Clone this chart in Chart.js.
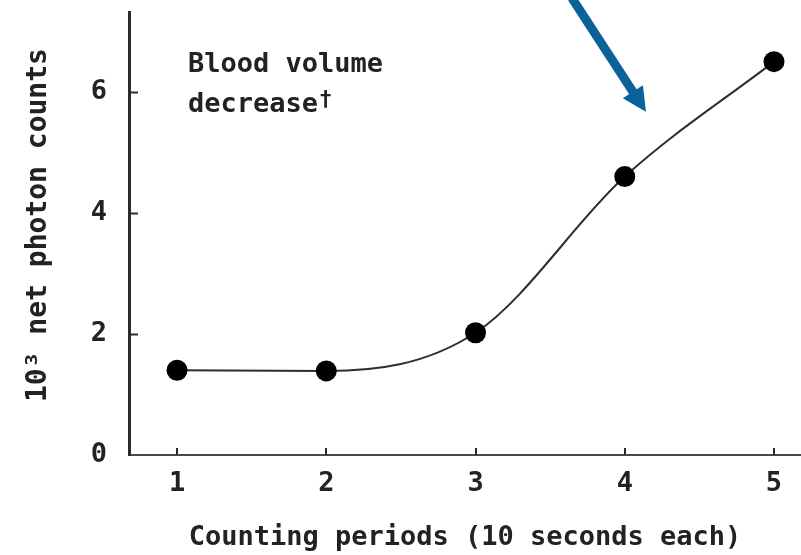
<!DOCTYPE html>
<html>
<head>
<meta charset="utf-8">
<script src="https://cdn.jsdelivr.net/npm/chart.js@4.4.1/dist/chart.umd.min.js"></script>
<style>
  html, body { margin: 0; padding: 0; background: #ffffff; }
  #wrap { width: 801px; height: 555px; position: relative; }
</style>
</head>
<body>
<div id="wrap"><canvas id="c" width="801" height="555"></canvas></div>
<script>
// Counting periods (10 s each) and net photon counts (thousands)
const periods = [1, 2, 3, 4, 5];
const counts = [1.40, 1.39, 2.02, 4.60, 6.50];

// Tick positions on each axis
const xTicks = [1, 2, 3, 4, 5];
const yTicks = [0, 2, 4, 6];

// Annotation text
const noteLines = ['Blood volume', 'decrease'];
const noteMark = '\u2020';

// Arrow pointing at the rising part of the curve (data units)
const arrowFrom = { x: 3.646, y: 7.55 };
const arrowTo = { x: 4.142, y: 5.67 };

const FONT = '"DejaVu Sans Mono", "Liberation Mono", monospace';
const INK = '#222222';

// Scales keep exactly the box they were given (no extra label margins)
function fixBox(size, prop) {
  return s => {
    s[prop] = size;
    s.paddingTop = 0; s.paddingBottom = 0;
    s.paddingLeft = 0; s.paddingRight = 0;
  };
}

// Short tick marks drawn inward from both axes
const inwardTicks = {
  id: 'inwardTicks',
  afterDraw(chart) {
    const { ctx, scales: { x, y }, chartArea } = chart;
    ctx.save();
    ctx.strokeStyle = '#2a2a2a';
    ctx.lineWidth = 2;
    yTicks.forEach(v => {
      if (v === 0) return;
      const py = Math.round(y.getPixelForValue(v)) + 0.5;
      ctx.beginPath();
      ctx.moveTo(chartArea.left, py);
      ctx.lineTo(chartArea.left + 9, py);
      ctx.stroke();
    });
    xTicks.forEach(v => {
      const px = Math.round(x.getPixelForValue(v));
      ctx.beginPath();
      ctx.moveTo(px, chartArea.bottom);
      ctx.lineTo(px, chartArea.bottom - 7);
      ctx.stroke();
    });
    ctx.restore();
  }
};

// Text note in the upper left of the plot
const note = {
  id: 'note',
  afterDraw(chart) {
    const { ctx, chartArea } = chart;
    const left = chartArea.left + 59;
    const top = chartArea.top;
    ctx.save();
    ctx.fillStyle = INK;
    ctx.textAlign = 'left';
    ctx.textBaseline = 'alphabetic';
    ctx.font = 'bold 27px ' + FONT;
    ctx.fillText(noteLines[0], left, top + 60);
    ctx.fillText(noteLines[1], left, top + 100);
    const w = ctx.measureText(noteLines[1]).width;
    ctx.font = 'bold 22px ' + FONT;
    ctx.fillText(noteMark, left + w + 1, top + 94);
    ctx.restore();
  }
};

// Blue arrow, placed through the chart scales
const arrow = {
  id: 'arrow',
  afterDraw(chart) {
    const { ctx, scales: { x, y } } = chart;
    const x0 = x.getPixelForValue(arrowFrom.x), y0 = y.getPixelForValue(arrowFrom.y);
    const x1 = x.getPixelForValue(arrowTo.x), y1 = y.getPixelForValue(arrowTo.y);
    const dx = x1 - x0, dy = y1 - y0;
    const len = Math.hypot(dx, dy);
    const ux = dx / len, uy = dy / len;
    const headLen = 24, headHalf = 12;
    const bx = x1 - ux * headLen, by = y1 - uy * headLen;
    ctx.save();
    ctx.strokeStyle = '#0a6298';
    ctx.fillStyle = '#0a6298';
    ctx.lineWidth = 9;
    ctx.lineCap = 'butt';
    ctx.beginPath();
    ctx.moveTo(x0, y0);
    ctx.lineTo(bx + ux * 2, by + uy * 2);
    ctx.stroke();
    ctx.beginPath();
    ctx.moveTo(x1, y1);
    ctx.lineTo(bx - uy * headHalf, by + ux * headHalf);
    ctx.lineTo(bx + uy * headHalf, by - ux * headHalf);
    ctx.closePath();
    ctx.fill();
    ctx.restore();
  }
};

new Chart(document.getElementById('c'), {
  type: 'line',
  data: {
    datasets: [{
      data: periods.map((p, i) => ({ x: p, y: counts[i] })),
      borderColor: '#2e2e2e',
      borderWidth: 2,
      backgroundColor: '#000000',
      pointBackgroundColor: '#000000',
      pointBorderColor: '#000000',
      pointRadius: 10.5,
      pointBorderWidth: 0,
      cubicInterpolationMode: 'monotone',
      fill: false,
      clip: false
    }]
  },
  options: {
    responsive: false,
    animation: false,
    devicePixelRatio: 1,
    layout: { autoPadding: false, padding: { top: 12, left: 0, right: 0, bottom: 0 } },
    plugins: {
      legend: { display: false },
      tooltip: { enabled: false }
    },
    scales: {
      x: {
        type: 'linear',
        min: 0.678,
        max: 5.181,
        afterBuildTicks: s => { s.ticks = xTicks.map(v => ({ value: v })); },
        afterFit: fixBox(100, 'height'),
        grid: { display: false, drawTicks: false },
        border: { display: true, color: '#4a4a4a', width: 2 },
        ticks: {
          padding: 13,
          color: INK,
          font: { family: FONT, size: 27, weight: 'bold' },
          maxRotation: 0,
          callback: v => String(v)
        },
        title: {
          display: true,
          text: 'Counting periods (10 seconds each)',
          color: INK,
          font: { family: FONT, size: 27, weight: 'bold', lineHeight: 1.2 },
          padding: { top: 0, bottom: 1 }
        }
      },
      y: {
        type: 'linear',
        min: 0,
        max: 7.32,
        afterBuildTicks: s => { s.ticks = yTicks.map(v => ({ value: v })); },
        afterFit: fixBox(129, 'width'),
        grid: { display: false, drawTicks: false },
        border: { display: true, color: '#2a2a2a', width: 3 },
        ticks: {
          padding: 22,
          color: INK,
          font: { family: FONT, size: 27, weight: 'bold' },
          callback: v => String(v)
        },
        title: {
          display: true,
          text: ' 10\u00B3 net photon counts',
          color: INK,
          font: { family: FONT, size: 28, weight: 'bold', lineHeight: 1.2 },
          padding: { top: 22, bottom: 0 }
        }
      }
    }
  },
  plugins: [inwardTicks, note, arrow]
});
</script>
</body>
</html>
